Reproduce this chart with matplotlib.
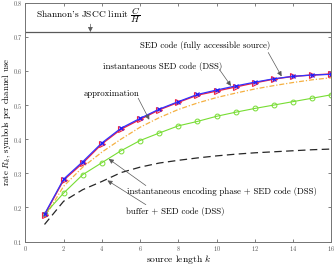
import matplotlib
matplotlib.use("Agg")
import matplotlib.pyplot as plt

plt.rcParams['font.family'] = 'serif'
plt.rcParams['font.serif'] = ['cmr10', 'DejaVu Serif']
plt.rcParams['mathtext.fontset'] = 'cm'
plt.rcParams['axes.formatter.use_mathtext'] = True

# data
k = list(range(1, 17))
sed_full = [0.180, 0.283, 0.334, 0.389, 0.432, 0.461, 0.488, 0.510,
            0.531, 0.544, 0.556, 0.567, 0.577, 0.584, 0.588, 0.590]
sed_inst = [0.178, 0.280, 0.330, 0.386, 0.429, 0.458, 0.486, 0.508,
            0.529, 0.541, 0.553, 0.565, 0.576, 0.584, 0.588, 0.591]
approx = [0.170, 0.262, 0.318, 0.362, 0.400, 0.435, 0.463, 0.487,
          0.506, 0.522, 0.535, 0.547, 0.557, 0.566, 0.574, 0.580]
enc_phase = [0.180, 0.242, 0.296, 0.331, 0.366, 0.396, 0.418, 0.439,
             0.452, 0.467, 0.479, 0.490, 0.500, 0.510, 0.520, 0.530]
buffer_sed = [0.150, 0.218, 0.252, 0.276, 0.302, 0.318, 0.330, 0.338,
              0.345, 0.351, 0.356, 0.360, 0.363, 0.366, 0.369, 0.371]
shannon = 0.714

fig = plt.figure(figsize=(3.34, 2.66), dpi=100)
ax = fig.add_axes([0.076, 0.092, 0.916, 0.898])

ax.axhline(shannon, color='0.35', lw=0.9)
ax.plot(k, buffer_sed, color='0.15', lw=0.9, dashes=(6, 3.5))
ax.plot(k, approx, color='#f5b041', lw=0.9, linestyle=(0, (4, 1.5, 1, 1.5)))
ax.plot(k, enc_phase, color='#77dd33', lw=0.8, marker='o', ms=3.5,
        mfc='none', mec='#77dd33', mew=0.7)
ax.plot(k, sed_inst, color='#ee2244', lw=1.0, marker='>', ms=4,
        mfc='none', mec='#ee2244', mew=0.8)
ax.plot(k, sed_full, color='#3333ff', lw=0.9, marker='x', ms=3,
        mec='#1a1aff', mew=0.8)

ax.set_xlim(0, 16)
ax.set_ylim(0.1, 0.8)
ax.set_xticks(range(0, 17, 2))
ax.set_yticks([0.1, 0.2, 0.3, 0.4, 0.5, 0.6, 0.7, 0.8])
ax.tick_params(direction='in', top=True, right=True, labelsize=4.5,
               length=2.5, width=0.5, colors='0.3', labelcolor='0.35', pad=2)
for s in ax.spines.values():
    s.set_color('0.45')
    s.set_linewidth(0.7)

ax.set_xlabel('source length $k$', fontsize=6.9)
ax.set_ylabel('rate $R_k$, symbols per channel use', fontsize=6.3)
ax.xaxis.set_label_coords(0.5, -0.046)
ax.yaxis.set_label_coords(-0.04, 0.5)

arrow = dict(arrowstyle='-|>', color='0.35', lw=0.5, mutation_scale=7,
             shrinkA=0, shrinkB=0)
tsize = 6.3

ax.text(3.3, 0.764, "Shannon's JSCC limit $\\dfrac{C}{H}$", fontsize=6.8,
        ha='center', va='center')
ax.annotate('', xy=(3.4, shannon), xytext=(3.4, 0.737), arrowprops=arrow)

ax.text(9.4, 0.674, 'SED code (fully accessible source)', fontsize=tsize,
        ha='center', va='center')
ax.annotate('', xy=(13.4, 0.584), xytext=(12.7, 0.654), arrowprops=arrow)

ax.text(7.2, 0.6125, 'instantaneous SED code (DSS)', fontsize=tsize,
        ha='center', va='center')
ax.annotate('', xy=(10.75, 0.556), xytext=(10.15, 0.604), arrowprops=arrow)

ax.text(4.52, 0.534, 'approximation', fontsize=tsize, ha='center', va='center')
ax.annotate('', xy=(6.48, 0.457), xytext=(5.9, 0.520), arrowprops=arrow)

ax.text(10.28, 0.248, 'instantaneous encoding phase + SED code (DSS)',
        fontsize=tsize, ha='center', va='center')
ax.annotate('', xy=(4.36, 0.342), xytext=(6.3, 0.264), arrowprops=arrow)

ax.text(7.83, 0.187, 'buffer + SED code (DSS)', fontsize=tsize,
        ha='center', va='center')
ax.annotate('', xy=(4.29, 0.279), xytext=(6.3, 0.208), arrowprops=arrow)

fig.savefig('out.png', dpi=100)
